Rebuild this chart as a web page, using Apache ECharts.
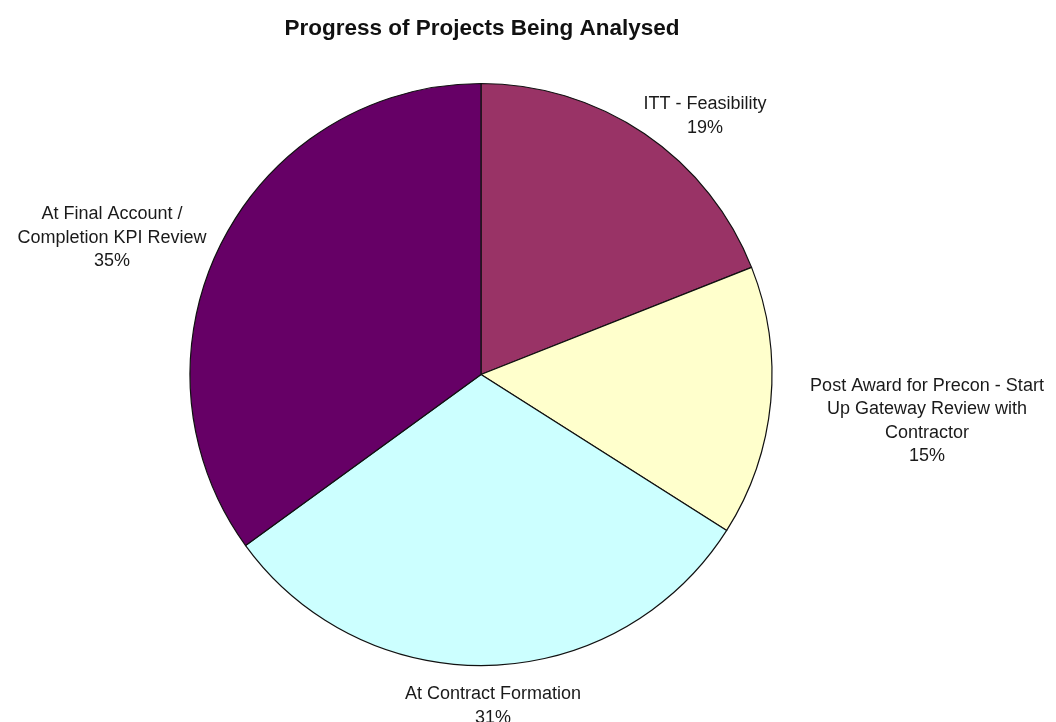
<!DOCTYPE html>
<html>
<head>
<meta charset="utf-8">
<script src="https://cdn.jsdelivr.net/npm/echarts@6/dist/echarts.min.js"></script>
<style>
  html, body { margin: 0; padding: 0; background: #fff; }
  #chart { width: 1056px; height: 722px; }
</style>
</head>
<body>
<div id="chart"></div>
<script>
// Project stages, in clockwise order from 12 o'clock
const categories = [
  'ITT - Feasibility',
  'Post Award for Precon - Start\nUp Gateway Review with\nContractor',
  'At Contract Formation',
  'At Final Account /\nCompletion KPI Review'
];
// Share of projects in each stage (%)
const values = [19, 15, 31, 35];
const sliceColors = ['#993366', '#FFFFCC', '#CCFFFF', '#660066'];

// Centre point of each label block (px)
const labelAnchors = [
  [705, 116],
  [927, 421],
  [493, 706],
  [112, 238]
];

const chart = echarts.init(document.getElementById('chart'), null, { renderer: 'canvas' });

chart.setOption({
  backgroundColor: '#ffffff',
  animation: false,
  title: {
    text: 'Progress of Projects Being Analysed',
    left: 482,
    textAlign: 'center',
    top: 17,
    padding: 0,
    textStyle: {
      fontFamily: 'Liberation Sans, Arial, sans-serif',
      fontSize: 22.5,
      fontWeight: 'bold',
      color: '#111111'
    }
  },
  series: [{
    type: 'pie',
    center: [481, 374.5],
    radius: [0, 291],
    startAngle: 90,
    clockwise: true,
    avoidLabelOverlap: false,
    data: categories.map((name, i) => ({
      name: name,
      value: values[i],
      itemStyle: { color: sliceColors[i] }
    })),
    itemStyle: {
      borderColor: '#111111',
      borderWidth: 1.2
    },
    emphasis: { disabled: true },
    label: {
      show: true,
      position: 'outside',
      formatter: p => p.name + '\n' + Math.round(p.percent) + '%',
      fontFamily: 'Liberation Sans, Arial, sans-serif',
      fontSize: 18,
      lineHeight: 23.5,
      color: '#1a1a1a',
      align: 'center'
    },
    labelLine: { show: false },
    labelLayout: params => ({
      x: labelAnchors[params.dataIndex][0],
      y: labelAnchors[params.dataIndex][1],
      align: 'center',
      verticalAlign: 'middle'
    })
  }]
});
</script>
</body>
</html>
